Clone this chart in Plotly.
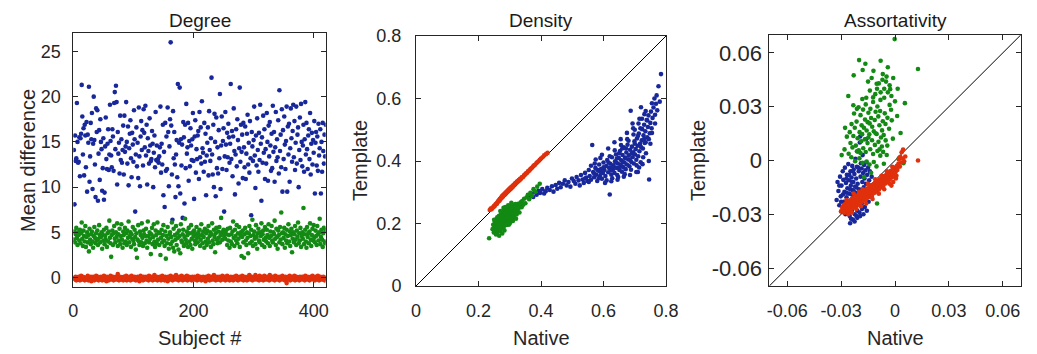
import plotly.graph_objects as go

# ---------------- data ----------------
subject = list(range(1, 421))

degree_blue = [
    14.1,8.1,15.7,12.9,13.2,19.3,15.0,12.7,12.8,15.5,11.2,15.4,15.9,21.3,17.8,13.6,16.5,11.3,16.9,15.7,
    12.2,17.2,9.5,15.8,14.9,21.1,10.6,13.4,17.1,15.3,18.2,9.8,14.8,20.0,15.2,12.5,8.9,18.7,16.1,18.5,
    8.5,13.7,16.3,10.8,17.5,15.0,14.2,9.6,12.1,15.4,8.6,9.4,14.5,17.7,13.1,12.0,14.8,16.4,11.9,13.6,
    19.1,15.1,13.5,12.2,16.4,15.6,11.8,19.3,20.5,14.2,21.2,19.4,10.3,16.1,13.7,14.9,11.5,17.9,13.0,15.3,
    12.7,14.1,16.8,11.4,17.9,13.9,14.5,19.4,15.0,12.6,16.7,10.2,14.3,15.9,17.4,13.2,11.1,16.0,14.7,12.8,
    18.5,15.3,7.3,13.6,16.6,12.3,14.9,11.0,18.8,13.4,10.1,15.6,17.3,14.1,16.3,12.4,18.6,16.0,14.4,19.0,
    13.5,16.9,10.3,15.4,14.0,12.6,17.6,14.6,12.9,13.1,16.2,14.8,10.0,13.8,15.7,12.2,18.3,13.0,14.6,12.9,
    13.1,12.7,13.4,14.4,18.9,11.6,14.8,12.5,16.9,9.1,13.9,7.8,17.1,11.8,15.6,12.0,18.8,16.1,10.1,14.5,
    17.5,26.0,16.8,11.4,6.4,18.4,13.2,16.1,12.5,8.9,13.6,15.2,11.1,21.4,10.1,14.9,21.0,9.3,15.3,12.4,
    14.7,6.6,17.2,15.5,8.2,16.9,12.1,19.2,13.7,14.4,17.1,10.7,15.1,12.3,16.5,14.6,13.0,15.3,18.2,12.9,
    8.7,15.6,17.4,11.6,14.2,13.1,15.7,16.2,10.9,18.3,13.3,16.6,12.6,19.5,14.3,13.8,11.7,17.1,12.8,15.9,
    9.1,13.5,14.9,16.6,11.3,18.4,14.1,12.9,15.4,22.1,13.6,11.4,16.9,10.0,18.1,15.0,9.0,17.7,12.1,14.4,
    11.5,16.3,13.2,20.3,9.8,14.6,17.8,12.0,15.1,16.5,7.3,13.4,18.3,14.7,11.9,16.0,13.3,17.0,15.5,12.7,
    14.8,21.4,13.1,16.2,11.2,15.6,18.7,14.0,9.2,13.6,16.4,12.3,17.5,15.2,10.4,14.3,21.0,12.8,16.9,13.9,
    15.8,11.0,17.1,14.4,12.2,16.7,10.9,13.7,15.9,18.0,12.5,14.9,11.6,17.3,13.2,6.9,16.1,14.5,12.9,15.2,
    18.9,13.5,9.9,15.7,12.4,17.6,14.1,11.7,16.0,13.0,19.1,14.8,8.5,15.5,12.7,17.9,13.8,16.4,10.9,14.2,
    12.6,18.2,15.0,10.7,16.8,13.4,17.2,14.6,11.8,15.9,12.1,19.0,13.9,16.1,10.6,14.4,18.3,12.9,15.3,13.3,
    17.4,11.5,20.7,14.0,15.8,12.2,18.6,9.5,16.3,13.1,17.8,14.7,12.0,15.1,18.9,9.5,16.7,13.6,17.0,10.6,
    14.3,18.7,15.4,12.8,16.2,19.1,13.3,17.3,11.9,14.9,18.9,12.6,15.8,16.6,10.0,14.1,17.7,13.0,19.2,15.0,
    12.3,14.6,16.9,11.7,15.3,19.4,13.6,17.1,14.2,12.0,15.7,16.4,13.1,18.2,11.4,14.8,16.0,12.5,15.2,13.8,
    17.3,9.3,14.9,16.1,12.4,15.6,11.8,17.0,13.5,14.3,16.4,9.3,15.0,11.7,17.1,14.0,12.6,15.8,13.4,16.9,
]
degree_green = [
    4.2,5.1,3.9,4.8,5.5,4.4,3.6,5.0,4.7,4.1,5.3,3.8,4.9,6.1,4.3,3.5,5.2,4.6,4.0,5.7,
    3.4,4.5,5.0,3.9,4.7,2.9,5.4,4.2,3.7,4.8,5.1,4.0,3.3,4.6,5.6,4.4,3.8,4.9,4.1,5.2,
    3.6,4.3,5.8,4.7,3.9,4.5,5.0,3.2,4.8,4.1,5.3,3.7,4.6,4.2,5.5,3.4,4.9,4.0,5.1,6.3,
    4.4,3.8,2.3,4.7,5.2,3.6,4.9,5.7,4.3,3.9,5.0,4.5,6.0,3.5,4.8,4.1,5.4,3.7,4.6,5.9,
    4.2,3.3,5.1,4.7,3.8,5.5,4.0,4.9,3.6,5.2,4.4,6.2,3.9,4.6,5.0,3.4,4.8,4.3,5.6,4.1,
    3.7,5.3,4.5,3.1,4.9,2.2,4.2,5.8,4.0,3.6,5.1,4.7,3.9,6.0,4.4,3.5,5.2,4.8,3.8,4.6,
    5.4,4.1,3.3,6.2,4.6,3.9,5.0,4.3,2.6,4.8,5.5,3.7,4.5,5.9,4.0,3.4,5.2,4.7,3.8,6.1,
    4.2,5.0,3.6,4.9,2.5,4.4,5.3,3.9,4.7,5.8,4.1,3.5,5.1,2.1,4.6,3.8,5.6,4.3,3.2,4.8,
    5.0,3.7,4.5,6.1,4.0,3.3,5.4,2.9,4.7,4.2,5.7,3.6,4.9,4.4,3.1,5.2,4.6,2.7,5.9,4.1,
    3.9,4.8,5.3,3.5,4.5,6.5,4.2,3.8,5.1,4.7,3.4,5.5,4.0,4.9,3.6,5.8,4.3,3.2,5.0,4.6,
    5.2,4.1,3.7,4.8,5.6,4.4,3.9,5.0,4.6,5.3,3.5,4.2,5.9,4.7,3.8,5.1,4.5,3.3,5.4,4.0,
    4.9,3.6,5.2,4.3,5.7,3.9,4.6,5.0,3.4,4.8,6.0,4.1,3.7,5.3,4.5,2.8,4.9,5.5,4.2,3.8,
    5.1,4.4,5.6,3.9,4.7,6.6,5.0,4.2,4.9,5.3,4.6,5.0,4.3,5.2,4.8,3.6,5.4,4.1,4.7,3.3,
    5.5,4.0,4.8,3.7,5.1,6.2,4.4,3.5,5.3,4.6,4.1,5.8,3.8,4.9,4.3,5.6,3.4,4.7,5.0,2.4,
    4.5,5.2,3.9,2.2,4.8,5.5,4.1,3.6,5.0,4.4,2.7,4.9,5.7,3.8,4.6,5.3,4.0,6.4,3.5,4.7,
    5.1,4.3,3.7,5.8,4.5,3.2,4.9,5.4,4.1,3.9,5.0,4.6,6.0,3.6,4.8,5.2,4.2,3.4,5.6,4.4,
    4.0,5.3,4.7,3.8,5.9,4.4,3.5,5.1,4.6,5.7,4.1,3.9,5.0,4.8,6.3,4.3,3.6,5.4,4.5,3.2,
    5.2,4.7,3.9,5.6,4.2,7.2,4.9,3.7,5.0,4.4,5.5,3.3,4.8,4.1,5.3,3.8,4.6,5.9,4.0,5.1,
    3.5,4.7,5.4,2.8,4.3,5.0,3.9,4.8,5.7,4.2,3.6,5.2,4.5,6.1,3.8,4.9,4.1,5.5,3.4,4.6,
    5.0,4.3,7.7,3.7,4.8,5.3,4.0,3.3,5.6,4.5,4.9,3.8,5.1,6.0,4.2,3.5,4.7,5.4,4.1,5.8,
    4.4,3.9,5.2,4.6,3.6,5.7,4.8,4.1,5.0,6.5,3.7,4.5,5.3,4.2,3.4,4.9,5.5,4.0,3.8,5.2,
]
degree_red = [
    -0.1,0.0,-0.2,0.1,-0.3,-0.1,0.0,-0.2,0.1,-0.1,-0.3,0.0,0.2,-0.2,-0.1,0.1,-0.2,0.0,-0.3,-0.1,
    0.0,-0.2,-0.1,0.2,-0.3,0.0,-0.1,-0.2,0.1,-0.4,0.0,-0.1,0.1,-0.2,-0.3,0.0,-0.1,0.2,-0.2,-0.1,
    0.1,-0.3,-0.1,0.0,-0.2,0.1,-0.1,-0.3,0.0,-0.2,0.2,-0.1,0.0,-0.2,-0.4,0.1,-0.1,0.0,-0.3,-0.2,
    -0.1,0.2,0.0,-0.2,-0.1,0.1,-0.3,0.0,-0.1,-0.2,0.1,0.0,-0.2,0.4,-0.1,-0.3,0.0,0.1,-0.2,-0.1,
    0.0,-0.1,-0.3,0.1,-0.2,0.0,-0.1,0.2,-0.3,-0.1,0.0,-0.2,0.1,-0.1,-0.3,0.0,0.2,-0.2,-0.1,0.0,
    -0.2,0.1,-0.1,-0.3,0.0,-0.2,0.1,-0.1,0.0,-0.4,-0.1,0.2,-0.2,0.0,-0.1,-0.3,0.1,-0.2,0.0,-0.1,
    0.1,-0.2,0.0,-0.1,-0.3,0.2,-0.1,0.0,-0.2,-0.1,0.1,-0.3,0.0,-0.2,0.3,-0.1,-0.2,0.0,0.1,-0.3,
    -0.1,0.0,-0.2,0.1,-0.1,-0.3,0.0,0.2,-0.2,-0.1,0.0,-0.3,0.1,-0.1,-0.2,0.0,-0.4,0.1,-0.1,0.0,
    -0.2,0.2,-0.1,0.0,-0.3,-0.1,0.1,-0.2,0.0,-0.1,0.3,-0.2,-0.1,0.0,-0.3,0.1,-0.1,-0.2,0.0,0.2,
    -0.1,-0.3,0.0,0.1,-0.2,-0.1,0.0,-0.2,0.2,-0.3,-0.1,0.0,0.1,-0.2,-0.1,0.0,-0.3,0.1,-0.1,-0.2,
    0.0,0.1,-0.2,-0.1,0.0,-0.3,0.2,-0.1,-0.2,0.0,0.1,-0.1,-0.3,0.0,-0.2,0.1,-0.1,0.0,-0.2,-0.4,
    0.1,-0.1,0.0,-0.2,0.2,-0.1,-0.3,0.0,0.1,-0.2,-0.1,0.0,-0.2,0.3,-0.1,0.0,-0.3,-0.1,0.1,-0.2,
    0.0,-0.2,0.1,-0.1,-0.3,0.0,-0.2,0.2,-0.1,0.0,-0.2,0.1,-0.3,-0.1,0.0,0.2,-0.2,-0.1,0.0,-0.3,
    -0.1,0.1,-0.2,0.0,-0.1,-0.3,0.1,0.0,-0.2,-0.1,0.2,-0.1,0.0,-0.3,-0.2,0.1,0.0,-0.1,-0.2,0.0,
    0.2,-0.1,-0.3,0.0,0.1,-0.2,-0.1,0.0,-0.3,0.1,-0.1,-0.2,0.3,0.0,-0.1,-0.2,0.1,-0.3,0.0,-0.1,
    -0.2,0.0,0.3,-0.1,-0.2,0.1,0.0,-0.1,-0.3,0.2,-0.1,0.0,-0.2,0.1,-0.1,-0.3,0.0,0.2,-0.2,-0.1,
    0.0,-0.2,0.1,-0.1,0.0,-0.3,0.3,-0.2,-0.1,0.0,0.1,-0.2,-0.1,0.0,-0.3,0.2,-0.1,0.0,-0.2,0.1,
    -0.1,0.0,-0.3,0.1,-0.2,0.0,-0.1,0.2,-0.2,-0.1,0.0,-0.3,0.1,-0.1,-0.6,0.0,-0.2,0.1,-0.1,0.2,
    -0.3,0.0,-0.1,0.1,-0.2,-0.1,0.0,0.2,-0.3,-0.1,0.1,0.0,-0.2,-0.1,0.0,-0.3,0.1,-0.2,0.0,-0.1,
    0.1,-0.2,0.0,-0.1,-0.3,0.2,0.0,-0.1,-0.2,0.1,-0.1,0.0,-0.3,-0.2,0.1,0.0,-0.1,0.2,-0.2,-0.1,
    0.0,-0.3,0.1,-0.1,0.0,-0.2,0.2,-0.1,-0.3,0.0,0.1,-0.2,-0.1,0.0,-0.2,0.1,-0.1,-0.3,0.0,-0.1,
]

density_blue_native = [
    0.362,0.368,0.375,0.380,0.386,0.392,0.397,0.404,0.410,0.415,0.420,0.428,0.435,0.440,0.447,0.452,0.458,0.463,0.470,0.476,0.482,0.488,0.494,0.499,0.505,
    0.510,0.514,0.520,0.524,0.528,0.533,0.537,0.541,0.545,0.549,0.553,0.556,0.560,0.564,0.567,0.570,0.574,0.577,0.580,0.583,0.586,0.589,0.592,0.595,0.598,0.600,0.553,0.572,0.541,0.590,
    0.603,0.606,0.609,0.612,0.615,0.618,0.620,0.622,0.625,0.627,0.630,0.632,0.635,0.637,0.640,0.642,0.644,0.646,0.649,0.651,
    0.653,0.655,0.657,0.659,0.661,0.663,0.665,0.667,0.669,0.671,0.673,0.675,0.677,0.679,0.681,0.683,0.685,0.687,0.689,0.691,
    0.693,0.695,0.697,0.699,0.610,0.628,0.647,0.668,0.688,0.636,0.656,0.676,0.696,0.616,0.643,0.662,0.684,0.624,0.652,0.672,
    0.701,0.703,0.705,0.707,0.709,0.711,0.713,0.715,0.717,0.719,0.720,0.722,0.724,0.726,0.728,0.730,0.732,0.734,0.736,0.738,
    0.740,0.742,0.744,0.746,0.748,0.750,0.752,0.754,0.757,0.760,0.763,0.765,0.768,0.772,0.776,0.780,0.784,
    0.706,0.714,0.727,0.735,0.745,0.755,0.700,0.712,0.723,0.731,0.718,0.710,0.693,
    0.560,0.575,0.585,0.595,0.605,0.615,0.625,0.635,0.645,0.655,0.665,0.675,0.685,0.695,0.705,0.715,0.725,0.735,0.745,0.755,
    0.765,0.770,0.640,0.650,0.660,0.670,0.680,0.690,0.700,0.710,0.720,0.730,0.740,0.750,0.620,0.630,0.600,0.590,0.580,0.570,
]
density_blue_template = [
    0.288,0.296,0.285,0.301,0.292,0.305,0.298,0.310,0.296,0.303,0.314,0.307,0.319,0.302,0.323,0.311,0.330,0.316,0.327,0.338,0.322,0.333,0.318,0.344,0.336,
    0.327,0.349,0.338,0.322,0.355,0.341,0.330,0.362,0.347,0.336,0.371,0.352,0.340,0.451,0.365,0.348,0.378,0.356,0.336,0.369,0.389,0.352,0.374,0.343,0.362,0.395,0.333,0.392,0.344,0.410,
    0.371,0.352,0.384,0.403,0.364,0.378,0.293,0.391,0.356,0.412,0.372,0.386,0.362,0.399,0.421,0.378,0.355,0.392,0.410,0.371,
    0.432,0.388,0.402,0.366,0.419,0.381,0.444,0.395,0.410,0.374,0.427,0.389,0.452,0.405,0.418,0.383,0.436,0.561,0.397,0.446,
    0.412,0.428,0.392,0.463,0.338,0.345,0.349,0.358,0.372,0.434,0.451,0.470,0.485,0.395,0.408,0.397,0.404,0.370,0.380,0.440,
    0.421,0.438,0.404,0.472,0.449,0.415,0.488,0.431,0.455,0.396,0.572,0.466,0.502,0.440,0.482,0.516,0.458,0.495,0.425,0.531,
    0.476,0.509,0.546,0.341,0.489,0.522,0.558,0.505,0.538,0.571,0.600,0.548,0.583,0.562,0.639,0.590,0.678,
    0.386,0.379,0.412,0.460,0.470,0.490,0.500,0.520,0.535,0.550,0.505,0.365,0.520,
    0.385,0.405,0.345,0.420,0.330,0.440,0.335,0.460,0.340,0.470,0.350,0.490,0.355,0.505,0.365,0.535,0.390,0.560,0.400,0.585,
    0.520,0.610,0.395,0.425,0.440,0.410,0.465,0.425,0.455,0.480,0.445,0.470,0.530,0.455,0.415,0.380,0.380,0.365,0.372,0.360,
]
density_green_native = [
    0.234,0.245,0.247,0.249,0.251,0.252,0.254,0.255,0.257,0.258,0.259,0.261,0.262,0.263,0.264,0.265,0.266,0.267,0.268,0.269,
    0.270,0.271,0.272,0.273,0.274,0.275,0.276,0.277,0.278,0.279,0.280,0.281,0.282,0.283,0.284,0.285,0.286,0.287,0.288,0.289,
    0.290,0.291,0.292,0.293,0.294,0.295,0.296,0.297,0.298,0.299,0.300,0.301,0.302,0.303,0.304,0.305,0.306,0.307,0.308,0.309,
    0.310,0.311,0.312,0.313,0.314,0.315,0.317,0.318,0.320,0.322,0.323,0.325,0.327,0.329,0.331,0.333,0.335,0.338,0.340,0.343,
    0.346,0.350,0.354,0.358,0.362,0.366,0.371,0.376,0.382,0.388,0.396,0.260,0.270,0.280,0.290,0.300,0.310,0.250,0.283,0.276,
    0.266,0.256,0.320,0.295,0.305,0.286,
]
density_green_template = [
    0.153,0.182,0.196,0.171,0.189,0.205,0.178,0.196,0.213,0.186,0.200,0.171,0.192,0.209,0.182,0.224,0.198,0.187,0.214,0.203,
    0.176,0.229,0.195,0.218,0.207,0.186,0.235,0.211,0.199,0.226,0.214,0.190,0.241,0.205,0.222,0.232,0.197,0.217,0.245,0.209,
    0.227,0.238,0.202,0.221,0.249,0.213,0.233,0.196,0.243,0.225,0.212,0.253,0.236,0.219,0.245,0.207,0.229,0.257,0.240,0.218,
    0.248,0.231,0.260,0.223,0.243,0.252,0.236,0.262,0.247,0.229,0.255,0.241,0.263,0.250,0.235,0.258,0.268,0.252,0.272,0.260,
    0.279,0.265,0.284,0.292,0.278,0.298,0.289,0.310,0.302,0.318,0.327,0.220,0.240,0.250,0.195,0.200,0.208,0.212,0.178,0.168,
    0.161,0.165,0.215,0.258,0.266,0.253,
]
density_red_native = [
    0.236,0.239,0.242,0.245,0.248,0.250,0.252,0.254,0.256,0.258,0.259,0.261,0.262,0.264,0.265,0.267,0.268,0.270,0.271,0.272,
    0.274,0.275,0.276,0.278,0.279,0.280,0.282,0.283,0.284,0.286,0.287,0.288,0.290,0.291,0.292,0.294,0.295,0.296,0.298,0.299,
    0.300,0.302,0.303,0.305,0.306,0.308,0.309,0.311,0.312,0.314,0.316,0.317,0.319,0.321,0.323,0.325,0.327,0.329,0.331,0.333,
    0.335,0.338,0.340,0.342,0.345,0.347,0.350,0.352,0.355,0.358,0.360,0.363,0.366,0.369,0.372,0.375,0.378,0.381,0.385,0.388,
    0.392,0.396,0.400,0.405,0.410,0.416,0.421,
]
density_red_template = [
    0.243,0.248,0.246,0.251,0.252,0.257,0.256,0.261,0.262,0.265,0.263,0.268,0.270,0.271,0.274,0.273,0.278,0.277,0.281,0.283,
    0.282,0.286,0.288,0.286,0.291,0.290,0.293,0.295,0.292,0.297,0.299,0.296,0.301,0.303,0.300,0.305,0.307,0.304,0.309,0.311,
    0.308,0.313,0.315,0.312,0.317,0.319,0.316,0.322,0.320,0.325,0.324,0.328,0.330,0.329,0.334,0.333,0.337,0.339,0.338,0.343,
    0.342,0.347,0.349,0.348,0.353,0.356,0.357,0.361,0.362,0.366,0.368,0.370,0.374,0.377,0.379,0.383,0.386,0.388,0.393,0.396,
    0.399,0.404,0.408,0.412,0.418,0.422,0.426,
]

assort_blue_native = [
    -0.0325,-0.0320,-0.0315,-0.0310,-0.0306,-0.0302,-0.0298,-0.0295,-0.0291,-0.0288,
    -0.0285,-0.0282,-0.0279,-0.0276,-0.0273,-0.0270,-0.0268,-0.0265,-0.0262,-0.0260,
    -0.0257,-0.0255,-0.0252,-0.0250,-0.0248,-0.0246,-0.0244,-0.0242,-0.0240,-0.0238,
    -0.0236,-0.0234,-0.0232,-0.0230,-0.0228,-0.0226,-0.0224,-0.0222,-0.0220,-0.0218,
    -0.0216,-0.0214,-0.0212,-0.0210,-0.0208,-0.0206,-0.0204,-0.0202,-0.0200,-0.0198,
    -0.0196,-0.0194,-0.0192,-0.0190,-0.0188,-0.0186,-0.0184,-0.0182,-0.0180,-0.0178,
    -0.0176,-0.0174,-0.0172,-0.0170,-0.0168,-0.0165,-0.0162,-0.0160,-0.0157,-0.0155,
    -0.0152,-0.0150,-0.0147,-0.0144,-0.0140,-0.0137,-0.0134,-0.0130,-0.0194,-0.0160,
    -0.0230,-0.0250,-0.0270,-0.0240,-0.0220,-0.0260,-0.0280,-0.0300,-0.0210,-0.0230,
    -0.0245,-0.0215,-0.0255,-0.0235,-0.0205,-0.0290,-0.0310,-0.0270,-0.0240,-0.0200,
    -0.0185,-0.0265,-0.0225,-0.0215,
]
assort_blue_template = [
    -0.0220,-0.0120,-0.0170,-0.0250,-0.0090,-0.0200,-0.0140,-0.0285,-0.0060,-0.0108,
    -0.0230,-0.0175,-0.0040,-0.0300,-0.0125,-0.0205,-0.0080,-0.0155,-0.0260,-0.0020,
    -0.0110,-0.0185,-0.0310,-0.0350,-0.0060,-0.0140,-0.0220,-0.0095,-0.0280,-0.0030,
    -0.0165,-0.0330,-0.0120,-0.0050,-0.0200,-0.0075,-0.0300,-0.0145,0.0010,-0.0240,
    -0.0100,-0.0180,-0.0035,-0.0320,-0.0130,0.0050,-0.0215,-0.0060,-0.0160,-0.0290,
    0.0100,-0.0310,-0.0090,-0.0015,-0.0195,-0.0045,-0.0270,-0.0120,0.0030,-0.0070,
    -0.0300,-0.0150,-0.0025,-0.0100,-0.0260,-0.0055,-0.0130,-0.0010,-0.0280,-0.0080,
    -0.0170,-0.0040,-0.0230,-0.0110,-0.0060,-0.0200,-0.0140,-0.0090,0.0134,0.0120,
    -0.0170,-0.0160,-0.0180,-0.0120,-0.0250,-0.0230,-0.0260,-0.0230,-0.0280,-0.0260,
    -0.0325,-0.0150,-0.0080,-0.0060,-0.0040,-0.0190,-0.0140,-0.0100,-0.0190,-0.0220,
    -0.0240,-0.0290,-0.0340,-0.0310,
]
assort_green_native = [
    -0.0002,0.0128,-0.0200,-0.0080,-0.0260,-0.0165,-0.0230,-0.0180,-0.0120,-0.0150,-0.0040,-0.0010,0.0015,0.0055,-0.0130,
    -0.0090,-0.0070,-0.0050,-0.0030,-0.0060,-0.0080,-0.0040,-0.0100,-0.0020,-0.0110,-0.0060,-0.0140,-0.0030,0.0000,-0.0160,
    -0.0203,-0.0178,-0.0163,-0.0137,-0.0122,-0.0098,-0.0083,-0.0057,-0.0042,-0.0018,
    -0.0192,-0.0167,-0.0148,-0.0133,-0.0108,-0.0093,-0.0068,-0.0053,-0.0214,-0.0186,
    -0.0173,-0.0152,-0.0127,-0.0113,-0.0087,-0.0072,-0.0033,-0.0224,-0.0197,-0.0183,
    -0.0158,-0.0143,-0.0118,-0.0102,-0.0078,-0.0063,-0.0232,-0.0208,-0.0188,-0.0168,
    -0.0153,-0.0128,-0.0112,-0.0092,-0.0073,-0.0248,-0.0237,-0.0218,-0.0202,-0.0177,
    -0.0163,-0.0138,-0.0122,-0.0098,-0.0082,-0.0297,-0.0281,-0.0258,-0.0243,-0.0222,
    -0.0198,-0.0181,-0.0158,-0.0142,-0.0118,-0.0103,-0.0062,0.0047,-0.0268,-0.0242,
    -0.0252,-0.0278,-0.0228,-0.0212,-0.0182,-0.0122,-0.0022,0.0012,0.0031,-0.0012,
    -0.0043,-0.0100,-0.0172,-0.0133,-0.0052,-0.0141,-0.0081,-0.0102,-0.0068,-0.0047,
    -0.0027,-0.0108,-0.0148,-0.0192,-0.0212,-0.0086,-0.0066,-0.0046,0.0021,-0.0232,
]
assort_green_template = [
    0.0677,0.0510,0.0560,0.0556,0.0360,0.0540,0.0475,0.0505,0.0500,0.0440,0.0520,0.0460,0.0400,0.0320,0.0460,
    0.0430,0.0450,0.0440,0.0420,0.0400,0.0380,0.0380,0.0400,0.0360,0.0370,0.0350,0.0390,0.0310,0.0330,0.0350,
    0.0297,0.0284,0.0313,0.0288,0.0326,0.0301,0.0276,0.0263,0.0238,0.0224,
    0.0253,0.0228,0.0266,0.0237,0.0272,0.0246,0.0219,0.0204,0.0217,0.0196,
    0.0183,0.0214,0.0188,0.0226,0.0197,0.0168,0.0177,0.0183,0.0158,0.0147,
    0.0167,0.0146,0.0163,0.0148,0.0128,0.0142,0.0137,0.0124,0.0107,0.0118,
    0.0097,0.0113,0.0087,0.0104,0.0078,0.0098,0.0073,0.0083,0.0057,0.0068,
    0.0047,0.0063,0.0036,0.0053,0.0027,0.0030,0.0062,0.0038,0.0018,-0.0004,
    0.0012,-0.0013,-0.0006,-0.0022,-0.0008,-0.0033,-0.0018,-0.0015,0.0133,0.0203,
    0.0158,0.0182,0.0262,0.0288,0.0343,0.0352,0.0283,0.0248,0.0153,0.0122,
    0.0083,-0.0240,-0.0092,-0.0068,0.0112,0.0207,0.0338,0.0428,0.0482,0.0468,
    0.0398,0.0152,0.0128,0.0042,0.0051,0.0062,0.0048,0.0031,0.0012,0.0308,
]
assort_red_native = [
    -0.0301,-0.0294,-0.0291,-0.0285,-0.0283,-0.0277,-0.0276,-0.0271,-0.0269,-0.0264,
    -0.0263,-0.0258,-0.0257,-0.0252,-0.0251,-0.0246,-0.0245,-0.0240,-0.0239,-0.0234,
    -0.0233,-0.0228,-0.0227,-0.0222,-0.0221,-0.0216,-0.0215,-0.0210,-0.0209,-0.0204,
    -0.0203,-0.0198,-0.0197,-0.0192,-0.0191,-0.0186,-0.0185,-0.0180,-0.0179,-0.0174,
    -0.0173,-0.0168,-0.0167,-0.0162,-0.0161,-0.0156,-0.0155,-0.0150,-0.0149,-0.0144,
    -0.0143,-0.0138,-0.0137,-0.0132,-0.0131,-0.0126,-0.0125,-0.0120,-0.0119,-0.0114,
    -0.0113,-0.0108,-0.0107,-0.0102,-0.0101,-0.0096,-0.0095,-0.0090,-0.0089,-0.0084,
    -0.0083,-0.0078,-0.0077,-0.0072,-0.0071,-0.0066,-0.0065,-0.0060,-0.0059,-0.0054,
    -0.0053,-0.0048,-0.0047,-0.0042,-0.0041,-0.0036,-0.0035,-0.0030,-0.0029,-0.0024,
    -0.0023,-0.0018,-0.0017,-0.0012,-0.0011,-0.0006,-0.0005,0.0001,0.0002,0.0007,
    0.0011,0.0013,0.0019,0.0021,0.0027,0.0029,0.0035,0.0037,0.0043,0.0045,
    0.0051,0.0057,0.0128,
    -0.0260,-0.0240,-0.0215,-0.0200,-0.0180,-0.0160,-0.0150,-0.0130,-0.0110,-0.0090,
    -0.0075,-0.0060,-0.0045,-0.0030,-0.0015,0.0005,-0.0190,-0.0230,-0.0270,-0.0125,
    -0.0010,0.0008,-0.0020,
]
assort_red_template = [
    -0.0284,-0.0263,-0.0276,-0.0249,-0.0291,-0.0265,-0.0241,-0.0280,-0.0254,-0.0233,
    -0.0271,-0.0245,-0.0284,-0.0225,-0.0260,-0.0237,-0.0273,-0.0214,-0.0252,-0.0230,
    -0.0263,-0.0208,-0.0242,-0.0223,-0.0258,-0.0198,-0.0237,-0.0213,-0.0248,-0.0192,
    -0.0227,-0.0205,-0.0241,-0.0182,-0.0220,-0.0197,-0.0231,-0.0176,-0.0210,-0.0191,
    -0.0223,-0.0165,-0.0204,-0.0180,-0.0216,-0.0157,-0.0193,-0.0174,-0.0205,-0.0151,
    -0.0185,-0.0163,-0.0198,-0.0140,-0.0176,-0.0157,-0.0187,-0.0133,-0.0167,-0.0146,
    -0.0180,-0.0123,-0.0160,-0.0137,-0.0171,-0.0114,-0.0151,-0.0128,-0.0161,-0.0105,
    -0.0142,-0.0119,-0.0149,-0.0096,-0.0132,-0.0110,-0.0141,-0.0087,-0.0122,-0.0100,
    -0.0128,-0.0078,-0.0111,-0.0090,-0.0119,-0.0069,-0.0100,-0.0080,-0.0107,-0.0059,
    -0.0089,-0.0070,-0.0095,-0.0049,-0.0078,-0.0059,-0.0083,-0.0039,-0.0066,-0.0047,
    -0.0029,-0.0053,-0.0019,0.0006,-0.0034,0.0021,-0.0011,0.0046,0.0011,0.0061,
    -0.0004,0.0022,0.0000,
    -0.0300,-0.0290,-0.0270,-0.0175,-0.0160,-0.0240,-0.0130,-0.0200,-0.0105,-0.0185,
    -0.0085,-0.0160,-0.0060,-0.0130,-0.0035,-0.0100,-0.0255,-0.0185,-0.0220,-0.0215,
    -0.0120,-0.0085,-0.0140,
]

panel_titles = ["Degree", "Density", "Assortativity"]
degree_ticks = [0, 5, 10, 15, 20, 25]
subject_ticks = [0, 200, 400]
density_ticks = [0, 0.2, 0.4, 0.6, 0.8]
density_ticktext = ["0", "0.2", "0.4", "0.6", "0.8"]
assort_ticks = [-0.06, -0.03, 0, 0.03, 0.06]
assort_ticktext = ["-0.06", "-0.03", "0", "0.03", "0.06"]

# ---------------- style / layout ----------------
W, H = 1037, 354
BLUE, GREEN, RED = "#18289a", "#138a13", "#e0300c"
AX = "#262626"
FONT = "Liberation Sans, Arial, Helvetica, sans-serif"
MS = 4.6
density_range = [0, 0.8]
assort_range = [-0.07, 0.07]


def fx(p):
    return p / W


def fy(p):
    return 1 - p / H


fig = go.Figure()


def dots(x, y, color, axis):
    fig.add_trace(go.Scatter(x=x, y=y, mode="markers", xaxis="x" + axis, yaxis="y" + axis,
                             marker=dict(color=color, size=MS, line=dict(width=0)),
                             showlegend=False, hoverinfo="skip"))


def diag(rng, axis):
    fig.add_trace(go.Scatter(x=rng, y=rng, mode="lines", xaxis="x" + axis, yaxis="y" + axis,
                             line=dict(color="black", width=1), showlegend=False, hoverinfo="skip"))


# panel 1
dots(subject, degree_blue, BLUE, "")
dots(subject, degree_green, GREEN, "")
dots(subject, degree_red, RED, "")
# panel 2
diag(density_range, "2")
dots(density_blue_native, density_blue_template, BLUE, "2")
dots(density_green_native, density_green_template, GREEN, "2")
dots(density_red_native, density_red_template, RED, "2")
# panel 3
diag(assort_range, "3")
dots(assort_blue_native, assort_blue_template, BLUE, "3")
dots(assort_green_native, assort_green_template, GREEN, "3")
dots(assort_red_native, assort_red_template, RED, "3")

common = dict(showline=True, linecolor=AX, linewidth=1, mirror="ticks", ticks="inside",
              ticklen=5, tickwidth=1, tickcolor=AX, showgrid=False, zeroline=False,
              automargin=False, fixedrange=True)
tf18 = dict(family=FONT, size=18, color=AX)
tf22 = dict(family=FONT, size=22, color=AX)

fig.update_layout(
    width=W, height=H, margin=dict(l=0, r=0, t=0, b=0, autoexpand=False),
    paper_bgcolor="white", plot_bgcolor="white",
    xaxis=dict(domain=[fx(73.3), fx(325.7)], range=[0, 420], tickvals=subject_ticks,
               anchor="y", ticklabelstandoff=8, tickfont=tf18, **common),
    yaxis=dict(domain=[fy(286.7), fy(33.3)], range=[-1, 27], tickvals=degree_ticks,
               anchor="x", ticklabelstandoff=8, tickfont=tf18, **common),
    xaxis2=dict(domain=[fx(416), fx(666)], range=density_range, tickvals=density_ticks,
                ticktext=density_ticktext, anchor="y2", ticklabelstandoff=8, tickfont=tf18, **common),
    yaxis2=dict(domain=[fy(286), fy(36)], range=density_range, tickvals=density_ticks,
                ticktext=density_ticktext, anchor="x2", ticklabelstandoff=10, tickfont=tf18, **common),
    xaxis3=dict(domain=[fx(769.3), fx(1020.7)], range=assort_range, tickvals=assort_ticks,
                ticktext=assort_ticktext, anchor="y3", ticklabelstandoff=8, tickfont=tf18, **common),
    yaxis3=dict(domain=[fy(286), fy(35)], range=assort_range, tickvals=assort_ticks,
                ticktext=assort_ticktext, anchor="x3", ticklabelstandoff=2, tickfont=tf22, **common),
)


def label(text, xpx, ypx, size, angle=0, color="#1a1a1a"):
    fig.add_annotation(text=text, x=fx(xpx), y=fy(ypx), xref="paper", yref="paper",
                       xanchor="center", yanchor="middle", showarrow=False, textangle=angle,
                       font=dict(family=FONT, size=size, color=color))


label(panel_titles[0], 199.5, 21, 19)
label(panel_titles[1], 541, 21, 19)
label(panel_titles[2], 895, 21, 19)
label("Subject #", 199.5, 338, 20, color=AX)
label("Native", 541, 338, 20, color=AX)
label("Native", 895, 338, 20, color=AX)
label("Mean difference", 28, 161, 20, angle=-90, color=AX)
label("Template", 360, 161, 20, angle=-90, color=AX)
label("Template", 698, 161, 20, angle=-90, color=AX)

fig.write_html("out.html", config={"displayModeBar": False, "staticPlot": True},
               post_script="document.body.style.margin='0px';")
